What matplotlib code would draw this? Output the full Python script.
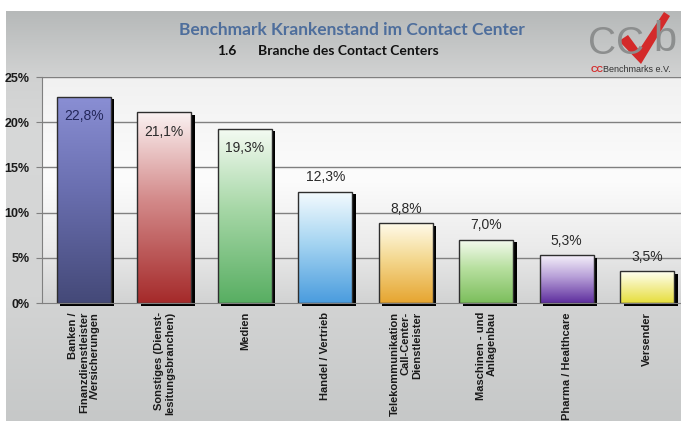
import numpy as np
import matplotlib
matplotlib.use("Agg")
import matplotlib.pyplot as plt
from matplotlib.colors import LinearSegmentedColormap
from matplotlib.patches import Rectangle, Polygon
import matplotlib.transforms as mtransforms

categories = [
    "Banken /\nFinanzdienstleister\n/Versicherungen",
    "Sonstiges (Dienst-\nlesitungsbranchen)",
    "Medien",
    "Handel / Vertrieb",
    "Telekommunikation\nCall-Center-\nDienstleister",
    "Maschinen - und\nAnlagenbau",
    "Pharma / Healthcare",
    "Versender",
]
values = [22.8, 21.1, 19.3, 12.3, 8.8, 7.0, 5.3, 3.5]
value_labels = ["22,8%", "21,1%", "19,3%", "12,3%", "8,8%", "7,0%", "5,3%", "3,5%"]
ytick_values = [0, 5, 10, 15, 20, 25]
ytick_labels = ["0%", "5%", "10%", "15%", "20%", "25%"]
title = "Benchmark Krankenstand im Contact Center"
subtitle_num = "1.6"
subtitle = "Branche des Contact Centers"

bar_grads = [
    ("#8a8fd4", "#6a6fb0", "#444978"),
    ("#fbf2f2", "#d48c8c", "#a52a2a"),
    ("#f5fbf3", "#a8d8a8", "#58ae62"),
    ("#f5fbfe", "#a8d6f2", "#4a9cde"),
    ("#fffbea", "#f4d890", "#e6a530"),
    ("#f6fbf1", "#b8e0a0", "#7cbe5c"),
    ("#f5f1fa", "#b8a0d8", "#5e2e9e"),
    ("#fffff2", "#f4f0a0", "#e6de3c"),
]

W, H, DPI = 681, 424, 100
fig = plt.figure(figsize=(W / DPI, H / DPI), dpi=DPI)
fig.patch.set_facecolor("white")

def fx(px):
    return px / W

def fy(py):
    return 1 - py / H

# background panel
bg = fig.add_axes([fx(6), fy(421), fx(681) - fx(6), fy(11) - fy(421)])
bg.set_axis_off()
bg_cmap = LinearSegmentedColormap.from_list(
    "bg", [(0, "#b6b9b9"), (0.15, "#d0d1d1"), (0.3, "#d7d8d8"), (0.7, "#d3d4d4"), (1, "#c6c8c8")])
grad = np.linspace(0, 1, 256).reshape(-1, 1)
bg.imshow(grad, aspect="auto", cmap=bg_cmap, extent=[0, 1, 1, 0])
bg.set_xlim(0, 1)
bg.set_ylim(1, 0)

# main axes
ax_left, ax_right, ax_top, ax_bottom = 42, 681, 77, 303
ax = fig.add_axes([fx(ax_left), fy(ax_bottom), fx(ax_right) - fx(ax_left), fy(ax_top) - fy(ax_bottom)])
ax.set_facecolor("none")
pa_cmap = LinearSegmentedColormap.from_list(
    "pa", [(0, "#d2d3d3"), (0.25, "#ebebeb"), (0.55, "#fcfcfc"), (1, "#f1f1f1")])
ax.imshow(grad, aspect="auto", cmap=pa_cmap, extent=[0, 1, 1, 0], transform=ax.transAxes, zorder=0)

n = len(values)
x = np.arange(n)
ax.set_xlim(-0.52, 7.42)
ax.set_ylim(0, 25)

for yv in ytick_values[1:]:
    ax.axhline(yv, color="#808080", lw=1.0, zorder=1)

width = 0.67
shadow_tr = ax.transData + mtransforms.ScaledTranslation(3.5 / DPI, -2.5 / DPI, fig.dpi_scale_trans)
bars = ax.bar(x, values, width=width, facecolor="none", edgecolor="#2e2e2e", lw=1.0, zorder=4)
for i, b in enumerate(bars):
    x0, w, h = b.get_x(), b.get_width(), b.get_height()
    sh = Rectangle((x0, 0), w, h, facecolor="black", edgecolor="none", transform=shadow_tr, zorder=2)
    sh.set_clip_on(False)
    ax.add_patch(sh)
    top, mid, bot = bar_grads[i]
    cm = LinearSegmentedColormap.from_list("b%d" % i, [(0, top), (0.45, mid), (1, bot)])
    im = ax.imshow(grad, aspect="auto", cmap=cm, extent=[x0, x0 + w, 0, h], origin="upper", zorder=3)
    im.set_clip_path(b)

# value labels
for i, (v, lab) in enumerate(zip(values, value_labels)):
    if v > 15:
        ax.annotate(lab, (x[i], v), xytext=(0, -14), textcoords="offset points",
                    ha="center", va="center", fontsize=10, family="Liberation Sans",
                    color="#23275a" if i == 0 else "#2a2a2a", zorder=6)
    else:
        ax.annotate(lab, (x[i], v), xytext=(0, 10.5), textcoords="offset points",
                    ha="center", va="center", fontsize=10, family="Liberation Sans",
                    color="#2a2a2a", zorder=6)

ax.set_yticks(ytick_values)
ax.set_yticklabels(ytick_labels, fontsize=9, fontweight="bold", family="Liberation Sans", color="#1a1a1a")
ax.tick_params(axis="y", length=4, color="#808080", pad=5)
ax.set_xticks(x)
ax.set_xticklabels(categories, rotation=90, fontsize=8, fontweight="bold",
                   family="Liberation Sans", color="#1a1a1a", ha="center", va="top",
                   multialignment="right", linespacing=1.15)
ax.tick_params(axis="x", length=0, pad=6.5)
for s in ["top", "right"]:
    ax.spines[s].set_visible(False)
ax.spines["left"].set_color("#808080")
ax.spines["bottom"].set_color("#808080")
ax.spines["left"].set_zorder(5)
ax.spines["bottom"].set_zorder(5)

# titles
fig.text(fx(352), fy(30), title, ha="center", va="center", fontsize=12.5,
         fontweight="bold", family="Lato", color="#4e6e9c")
fig.text(fx(227), fy(51), subtitle_num, ha="center", va="center", fontsize=10,
         fontweight="bold", family="Lato", color="#111111")
fig.text(fx(258), fy(51), subtitle, ha="left", va="center", fontsize=10,
         fontweight="bold", family="Lato", color="#111111")

# logo
fig.text(fx(588), fy(44), "CC", ha="left", va="center", fontsize=28,
         family="Liberation Sans", color="#8c8e8e")
fig.text(fx(653), fy(40), "b", ha="left", va="center", fontsize=30,
         family="Liberation Sans", color="#8c8e8e")
check = Polygon([(fx(619), fy(41)), (fx(628), fy(35)), (fx(639), fy(50)),
                 (fx(664), fy(12)), (fx(670), fy(16)), (fx(641), fy(64))],
                closed=True, facecolor="#d42a2a", edgecolor="none", transform=fig.transFigure)
fig.add_artist(check)
fig.text(fx(591), fy(69), "CC", ha="left", va="center", fontsize=6.5,
         fontweight="bold", family="Liberation Sans", color="#d42a2a")
fig.text(fx(603), fy(69), "Benchmarks e.V.", ha="left", va="center", fontsize=6.5,
         family="Liberation Sans", color="#333333")

fig.savefig("out.png", dpi=DPI)
